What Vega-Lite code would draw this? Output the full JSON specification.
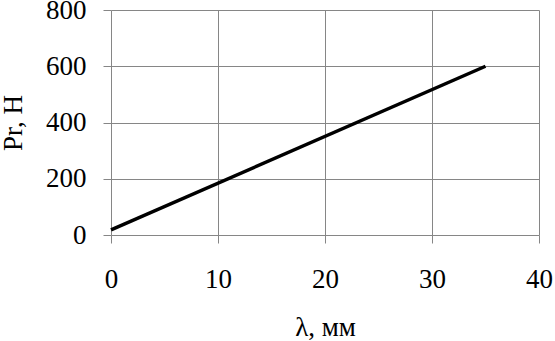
{
  "$schema": "https://vega.github.io/schema/vega-lite/v6.json",
  "autosize": "none",
  "padding": {"left": 111, "top": 10, "right": 16, "bottom": 106},
  "width": 428,
  "height": 225,
  "background": "white",
  "config": {
    "view": {"stroke": null},
    "font": "Liberation Serif"
  },
  "data": {"values": [
    {"lambda": 0, "Pr": 18},
    {"lambda": 35, "Pr": 600}
  ]},
  "mark": {"type": "line", "color": "black", "strokeWidth": 3.5},
  "encoding": {
    "x": {
      "field": "lambda", "type": "quantitative",
      "scale": {"domain": [0, 40], "nice": false, "zero": false},
      "axis": {"values": [0, 10, 20, 30, 40], "title": "λ, мм",
        "labelFont": "Liberation Serif", "labelFontSize": 27, "labelColor": "black",
        "titleFont": "Liberation Serif", "titleFontSize": 27, "titleColor": "black", "titleFontWeight": "normal",
        "gridColor": "#868686", "gridOpacity": 1, "tickColor": "#868686", "tickSize": 8, "domain": false,
        "labelPadding": 23, "titlePadding": 22, "labelFlush": false}
    },
    "y": {
      "field": "Pr", "type": "quantitative",
      "scale": {"domain": [0, 800], "nice": false},
      "axis": {"values": [0, 200, 400, 600, 800], "title": "Pr, H",
        "labelFont": "Liberation Serif", "labelFontSize": 27, "labelColor": "black",
        "titleFont": "Liberation Serif", "titleFontSize": 27, "titleColor": "black", "titleFontWeight": "normal",
        "gridColor": "#868686", "gridOpacity": 1, "tickColor": "#868686", "tickSize": 8, "domain": false,
        "labelPadding": 17, "titlePadding": 18, "labelFlush": false}
    }
  }
}
